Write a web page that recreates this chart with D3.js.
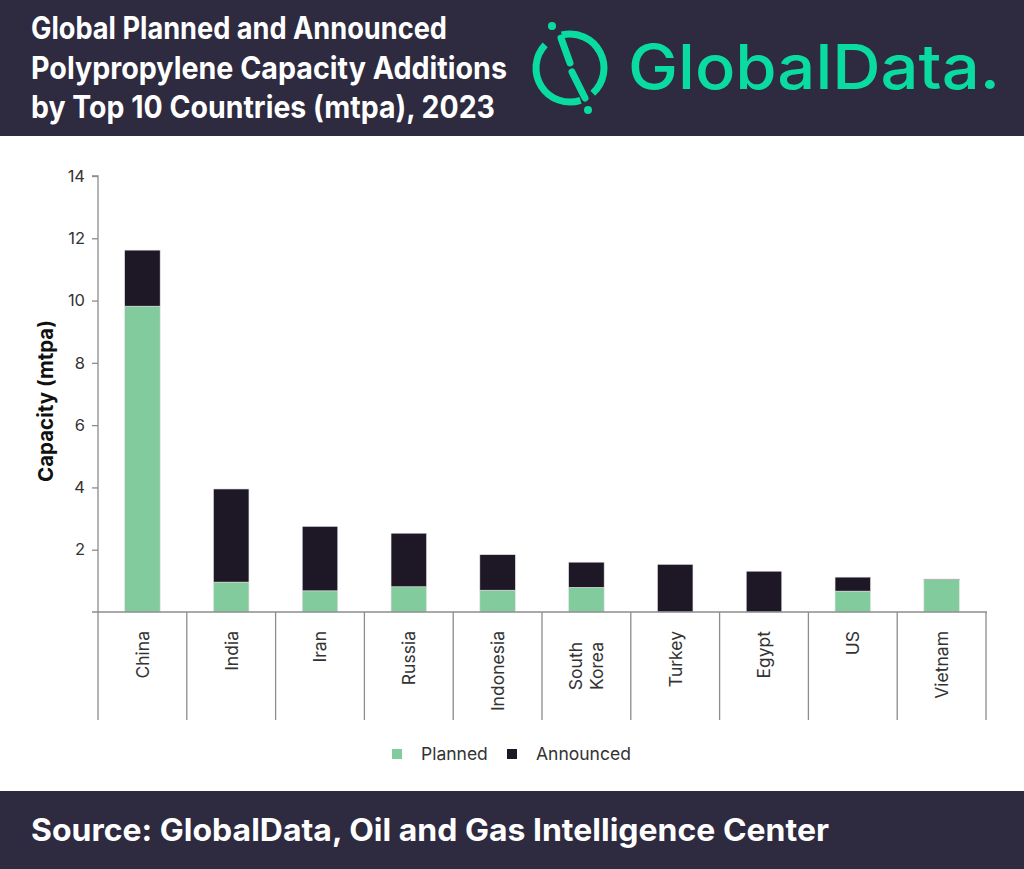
<!DOCTYPE html>
<html>
<head>
<meta charset="utf-8">
<script src="https://cdn.jsdelivr.net/npm/d3@7"></script>
<style>
  html, body { margin: 0; padding: 0; background: #fff; }
  svg { display: block; font-family: Inter, "Noto Sans", sans-serif; }
</style>
</head>
<body>
<div id="chart"></div>
<script>
// values (mtpa)
const countries = ['China', 'India', 'Iran', 'Russia', 'Indonesia', 'South Korea', 'Turkey', 'Egypt', 'US', 'Vietnam'];
const planned   = [9.82, 0.96, 0.68, 0.81, 0.70, 0.79, 0.00, 0.00, 0.67, 1.04];
const announced = [1.80, 2.99, 2.07, 1.72, 1.14, 0.81, 1.53, 1.31, 0.45, 0.02];
const yTicks = [2, 4, 6, 8, 10, 12, 14];
const seriesNames = ['Planned', 'Announced'];
const titleLines = [
  'Global Planned and Announced',
  'Polypropylene Capacity Additions',
  'by Top 10 Countries (mtpa), 2023'
];
const sourceText = 'Source: GlobalData, Oil and Gas Intelligence Center';

const W = 1024, H = 869;
const NAVY = '#2e2a3f', GREEN = '#82cb9c', DARK = '#1d1726', BRAND = '#0adba1';
const colors = { Planned: GREEN, Announced: DARK };

const svg = d3.select('#chart').append('svg').attr('width', W).attr('height', H);

// squeeze a text node to the width it takes in the reference
function fit(sel, w){
  sel.attr('textLength', w).attr('lengthAdjust', 'spacingAndGlyphs');
}

/* header band */
svg.append('rect').attr('width', W).attr('height', 136).attr('fill', NAVY);
titleLines.forEach((t, i) => {
  svg.append('text').attr('x', 31).attr('y', 39 + i * 39.5)
    .attr('fill', '#fff').attr('font-size', 31).attr('font-weight', 700)
    .text(t).call(fit, [416, 476, 464][i]);
});

// logo mark: broken ring, slash and two dots
const logo = svg.append('g').attr('transform', 'translate(570,68)')
  .attr('stroke', BRAND).attr('stroke-width', 7).attr('fill', 'none').attr('stroke-linecap', 'round');
const ring = d3.arc().innerRadius(34).outerRadius(34);
[[-14, 138], [162, 313]].forEach(([a0, a1]) => {
  logo.append('path').attr('d', ring({ startAngle: a0 * Math.PI / 180, endAngle: a1 * Math.PI / 180 }));
});
logo.append('line').attr('x1', -9).attr('y1', -30).attr('x2', 0).attr('y2', -5);
logo.append('line').attr('x1', 2).attr('y1', 4).attr('x2', 15).attr('y2', 30);
logo.append('circle').attr('cx', -18).attr('cy', -42).attr('r', 4).attr('fill', BRAND).attr('stroke', 'none');
logo.append('circle').attr('cx', 18).attr('cy', 42).attr('r', 4).attr('fill', BRAND).attr('stroke', 'none');
svg.append('text').attr('x', 628).attr('y', 89)
  .attr('fill', BRAND).attr('font-size', 62).attr('font-weight', 500)
  .text('GlobalData.').call(fit, 372);

/* plot */
const x = d3.scaleBand().domain(countries).range([98, 986]).paddingInner(0.6).paddingOuter(0.3);
const y = d3.scaleLinear().domain([0, 14]).range([612, 176]);

const rows = countries.map((c, i) => ({ country: c, Planned: planned[i], Announced: announced[i] }));
const stacked = d3.stack().keys(seriesNames)(rows);

svg.append('g').selectAll('g').data(stacked).join('g')
  .attr('fill', d => colors[d.key])
  .selectAll('rect').data(d => d).join('rect')
    .attr('x', d => x(d.data.country))
    .attr('width', x.bandwidth())
    .attr('y', d => y(d[1]))
    .attr('height', d => y(d[0]) - y(d[1]))
    .attr('stroke', '#e4e4e4').attr('stroke-width', 0.6);

// y axis
const yAxis = svg.append('g').attr('transform', 'translate(98,0)')
  .call(d3.axisLeft(y).tickValues(yTicks).tickSize(6).tickPadding(7));
yAxis.select('.domain').attr('stroke', '#8c8c8c').attr('stroke-width', 1.3)
  .attr('d', 'M-6,' + y(14) + 'H0V' + y(0));
yAxis.selectAll('.tick line').attr('stroke', '#8c8c8c').attr('stroke-width', 1.3);
yAxis.selectAll('.tick text').attr('fill', '#333').attr('font-size', 16.5).attr('font-family', 'Inter, sans-serif');

// x baseline and category dividers
const step = x.step();
const x0 = x.range()[0];
svg.append('line').attr('x1', 92).attr('x2', 987).attr('y1', y(0)).attr('y2', y(0))
  .attr('stroke', '#8c8c8c').attr('stroke-width', 1.3);
svg.append('g').selectAll('line').data(d3.range(countries.length + 1)).join('line')
  .attr('x1', i => x0 + i * step).attr('x2', i => x0 + i * step)
  .attr('y1', y(0)).attr('y2', 720)
  .attr('stroke', '#8c8c8c').attr('stroke-width', 1.3);

// rotated category labels
const labels = svg.append('g').selectAll('g').data(countries).join('g')
  .attr('transform', d => 'translate(' + (x(d) + x.bandwidth() / 2) + ',' + (d === 'South Korea' ? 642 : 631) + ') rotate(-90)');
labels.each(function(d){
  const parts = d === 'South Korea' ? ['South', 'Korea'] : [d];
  const g = d3.select(this);
  parts.forEach((p, j) => {
    g.append('text').attr('text-anchor', 'end')
      .attr('y', (j - (parts.length - 1) / 2) * 21)
      .attr('dy', '0.36em')
      .attr('fill', '#333').attr('font-size', 17.5)
      .text(p);
  });
});

// y title
svg.append('text').attr('transform', 'translate(53,401) rotate(-90)')
  .attr('text-anchor', 'middle').attr('font-size', 20.5).attr('font-weight', 700).attr('fill', '#111')
  .text('Capacity (mtpa)');

// legend
const legend = svg.append('g').selectAll('g').data(seriesNames).join('g')
  .attr('transform', (d, i) => 'translate(' + [392, 507][i] + ',749)');
legend.append('rect').attr('width', 10).attr('height', 10).attr('fill', d => colors[d]);
legend.append('text').attr('x', 29).attr('y', 5).attr('dy', '0.36em')
  .attr('font-size', 17.5).attr('fill', '#333').text(d => d);

/* footer band */
svg.append('rect').attr('y', 791).attr('width', W).attr('height', H - 791).attr('fill', NAVY);
svg.append('text').attr('x', 31).attr('y', 841)
  .attr('fill', '#fff').attr('font-size', 31).attr('font-weight', 700)
  .text(sourceText).call(fit, 798);
</script>
</body>
</html>
